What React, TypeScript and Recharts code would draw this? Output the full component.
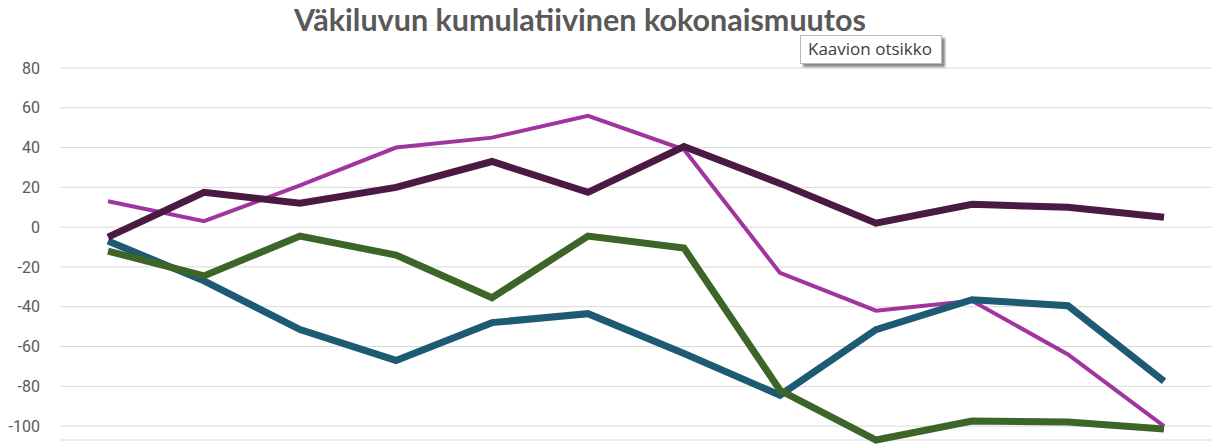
import { CartesianGrid, Line, LineChart, XAxis, YAxis } from "recharts";

const periods = ["1", "2", "3", "4", "5", "6", "7", "8", "9", "10", "11", "12"];
const magenta = [13, 3, 21, 40, 45, 56, 39, -23, -42, -37, -64, -100];
const plum = [-5, 17.5, 12, 20, 33, 17.5, 40.5, 22, 2, 11.5, 10, 5];
const green = [-12, -24.5, -4.5, -14, -35.5, -4.5, -10.5, -82, -107, -97.5, -98, -101.5];
const teal = [-7, -27, -51.5, -67, -48, -43.5, -63.5, -84.5, -51.5, -36.5, -39.5, -77.5];
const yTicks = [80, 60, 40, 20, 0, -20, -40, -60, -80, -100];

const data = periods.map((p, i) => ({
  p,
  magenta: magenta[i],
  plum: plum[i],
  green: green[i],
  teal: teal[i],
}));

export default function App() {
  return (
    <div style={{ position: "relative", width: 1216, height: 448, background: "#fff" }}>
      <style>{`body{margin:0}`}</style>
      <div
        style={{
          position: "absolute",
          top: 1,
          left: 0,
          width: 1160,
          textAlign: "center",
          fontFamily: "Lato, sans-serif",
          fontWeight: 700,
          fontSize: 30.5,
          color: "#595959",
        }}
      >
        Väkiluvun kumulatiivinen kokonaismuutos
      </div>
      <LineChart
        width={1216}
        height={448}
        data={data}
        margin={{ top: 68, right: 4, bottom: 8, left: 0 }}
      >
        <CartesianGrid vertical={false} stroke="#d9d9d9" />
        <XAxis dataKey="p" hide padding={{ left: 48, right: 48 }} />
        <YAxis
          domain={[-100, 80]}
          ticks={yTicks}
          width={60}
          axisLine={false}
          tickLine={false}
          tickMargin={14}
          tick={{ fill: "#595959", fontSize: 16, fontFamily: "Roboto, sans-serif" }}
        />
        <Line dataKey="magenta" stroke="#a1359f" strokeWidth={4} dot={false} isAnimationActive={false} />
        <Line dataKey="teal" stroke="#1d5a74" strokeWidth={7} dot={false} isAnimationActive={false} />
        <Line dataKey="green" stroke="#3c6527" strokeWidth={7} dot={false} isAnimationActive={false} />
        <Line dataKey="plum" stroke="#4a1a43" strokeWidth={7} dot={false} isAnimationActive={false} />
      </LineChart>
      <div
        style={{
          position: "absolute",
          left: 800,
          top: 35,
          padding: "1px 9px 3px 7px",
          background: "#fff",
          border: "1px solid #b8b8b8",
          boxShadow: "3px 3px 2px #8a8a8a",
          fontFamily: "'Open Sans', sans-serif",
          fontSize: 17,
          color: "#404040",
          whiteSpace: "nowrap",
        }}
      >
        Kaavion otsikko
      </div>
    </div>
  );
}
